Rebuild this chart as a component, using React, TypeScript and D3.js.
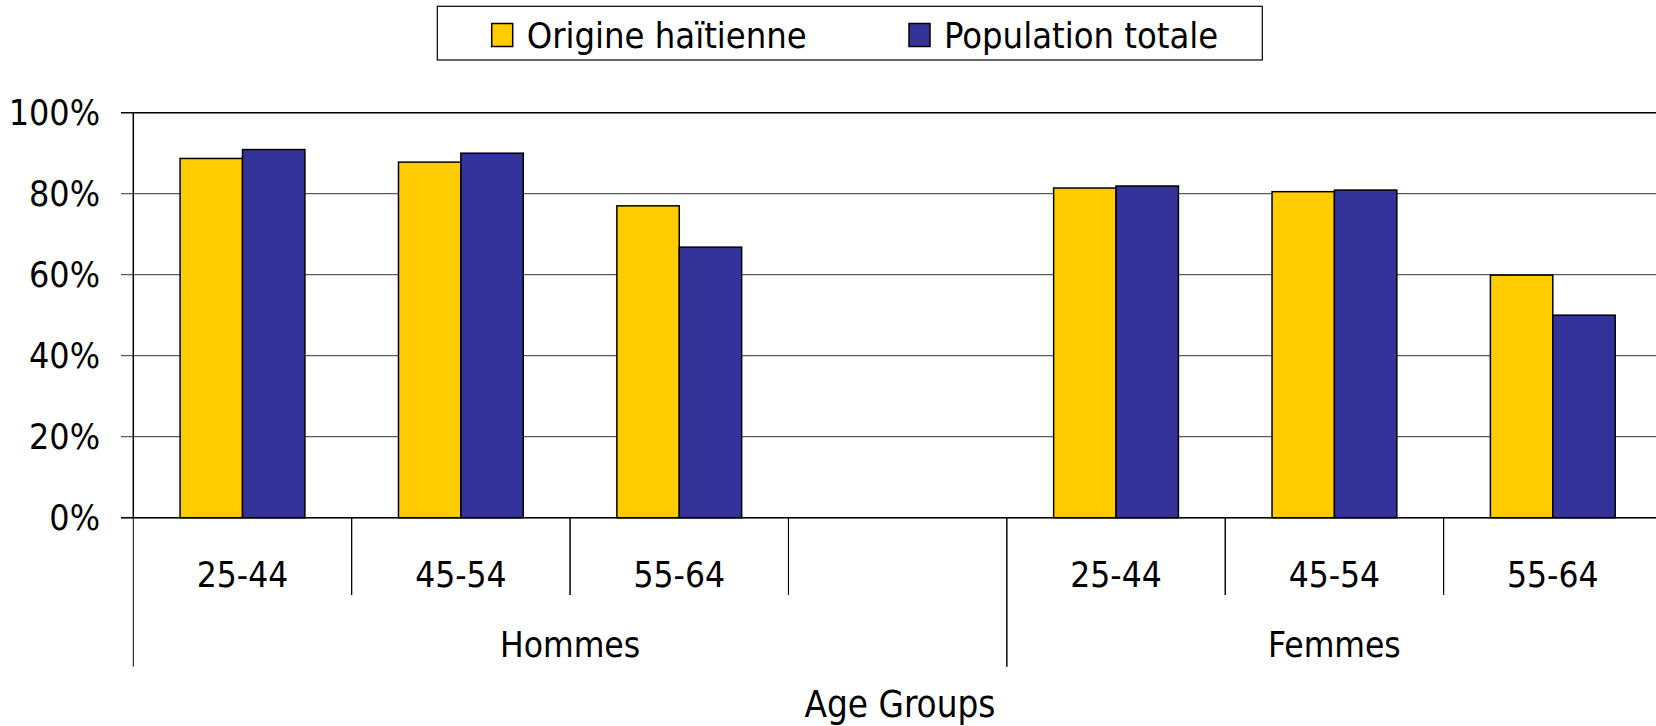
import * as d3 from "d3";

// slots along the x axis (the Hommes group keeps an empty fourth slot)
const groups = ["Hommes", "Femmes"];
const slots = ["H 25-44", "H 45-54", "H 55-64", "H blank", "F 25-44", "F 45-54", "F 55-64"];
const slotLabels = ["25-44", "45-54", "55-64", "", "25-44", "45-54", "55-64"];
const slotGroup = ["Hommes", "Hommes", "Hommes", "Hommes", "Femmes", "Femmes", "Femmes"];
const series = ["Origine haïtienne", "Population totale"];
const haitienne = [0.887, 0.878, 0.77, null, 0.814, 0.805, 0.599];
const totale = [0.909, 0.9, 0.668, null, 0.819, 0.809, 0.5];
const yTicks = [0, 0.2, 0.4, 0.6, 0.8, 1];
const colors = ["#FFCC00", "#333399"];

const W = 1656;
const H = 726;
const FONT = "'DejaVu Sans Condensed', 'DejaVu Sans', sans-serif";

function App() {
	const left = 133.3;
	const right = 1662;
	const top = 112.7;
	const bottom = 517.7;

	const x0 = d3.scaleBand<string>().domain(slots).range([left, right]);
	const x1 = d3
		.scaleBand<string>()
		.domain(series)
		.range([0, x0.bandwidth()])
		.paddingInner(0)
		.paddingOuter(0.75);
	const y = d3.scaleLinear().domain([0, 1]).range([bottom, top]);
	const fmt = d3.format(".0%");
	const values = [haitienne, totale];

	const groupSpan = (g: string) => {
		const s = slots.filter((_, i) => slotGroup[i] === g);
		const a = x0(s[0])!;
		const b = x0(s[s.length - 1])! + x0.bandwidth();
		return [a, b];
	};

	const legendX = [491.7, 909];

	return (
		<svg
			width={W}
			height={H}
			style={{ position: "absolute", left: 0, top: 0, background: "#fff" }}
			fontFamily={FONT}
		>
			{/* legend */}
			<rect x={437.3} y={6.3} width={825} height={53.7} fill="#fff" stroke="#000" strokeWidth={1.2} />
			{series.map((s, i) => (
				<g key={s}>
					<rect x={legendX[i]} y={23.5} width={21} height={23} fill={colors[i]} stroke="#000" strokeWidth={1.5} />
					<text x={legendX[i] + 35} y={47.5} fontSize={36}>
						{s}
					</text>
				</g>
			))}

			{/* gridlines and y labels */}
			{yTicks.map((t) => (
				<g key={t}>
					<line x1={121} x2={right} y1={y(t)} y2={y(t)} stroke={t === 1 ? "#000" : "#333"} strokeWidth={t === 1 ? 1.5 : 1} />
					<text x={100} y={y(t) + 12.5} textAnchor="end" fontSize={35.5}>
						{fmt(t)}
					</text>
				</g>
			))}

			{/* bars */}
			{slots.map((s, i) => (
				<g key={s} transform={`translate(${x0(s)},0)`}>
					{series.map((se, k) => {
						const v = values[k][i];
						if (v == null) return null;
						return (
							<rect
								key={se}
								x={x1(se)}
								y={y(v)}
								width={x1.bandwidth()}
								height={bottom - y(v)}
								fill={colors[k]}
								stroke="#000"
								strokeWidth={1.5}
							/>
						);
					})}
				</g>
			))}

			{/* axes */}
			<line x1={left} x2={left} y1={top} y2={bottom} stroke="#000" strokeWidth={1.5} />
			<line x1={121} x2={right} y1={bottom} y2={bottom} stroke="#000" strokeWidth={1.5} />

			{/* category ticks and labels */}
			{slots.map((s, i) => (
				<g key={s}>
					{i > 0 && slotGroup[i] === slotGroup[i - 1] && (
						<line x1={x0(s)} x2={x0(s)} y1={bottom} y2={595} stroke="#000" strokeWidth={1} />
					)}
					{i === slots.length - 1 || slotGroup[i] === slotGroup[i + 1] ? (
						<line
							x1={x0(s)! + x0.bandwidth()}
							x2={x0(s)! + x0.bandwidth()}
							y1={bottom}
							y2={595}
							stroke="#000"
							strokeWidth={1}
						/>
					) : null}
					<text x={x0(s)! + x0.bandwidth() / 2} y={586.7} textAnchor="middle" fontSize={35}>
						{slotLabels[i]}
					</text>
				</g>
			))}

			{/* group separators and labels */}
			{groups.map((g) => {
				const [a, b] = groupSpan(g);
				return (
					<g key={g}>
						<line x1={a} x2={a} y1={bottom} y2={666.7} stroke="#000" strokeWidth={1} />
						<line x1={b} x2={b} y1={bottom} y2={666.7} stroke="#000" strokeWidth={1} />
						<text x={(a + b) / 2} y={657} textAnchor="middle" fontSize={35}>
							{g}
						</text>
					</g>
				);
			})}

			<text x={900} y={716.7} textAnchor="middle" fontSize={36.5}>
				Age Groups
			</text>
		</svg>
	);
}

export default App;
